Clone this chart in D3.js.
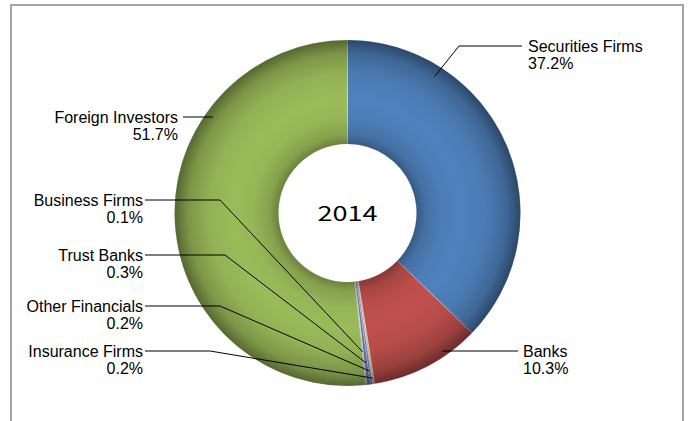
<!DOCTYPE html>
<html><head><meta charset="utf-8">
<script src="https://cdn.jsdelivr.net/npm/d3@7"></script>
<style>
html,body{margin:0;padding:0;background:#fff;}
svg{display:block;}
</style></head>
<body>
<svg id="chart" width="691" height="421"></svg>
<script>
// ---- data ----
const categories = ["Securities Firms","Banks","Insurance Firms","Other Financials","Trust Banks","Business Firms","Foreign Investors"];
const values = [37.2, 10.3, 0.2, 0.2, 0.3, 0.1, 51.7];
const valueLabels = ["37.2%","10.3%","0.2%","0.2%","0.3%","0.1%","51.7%"];
const centerTitle = "2014";

// ---- styles / layout ----
const colors = ["#4f81bd","#c0504d","#d4b48a","#4f81bd","#8064a2","#4bacc6","#9bbb59"];
const cx = 347.5, cy = 213, rOuter = 173, rInner = 69;
const labelLayout = [
  {side:"right", y:46,  elbow:459, lineEnd:522, tx:528, frac:0.243, r:162},
  {side:"right", y:351, elbow:null, lineEnd:518, tx:523, frac:0.315, r:167},
  {side:"left",  y:351, elbow:210, lineEnd:145, tx:143, frac:0.5, r:167},
  {side:"left",  y:306, elbow:220, lineEnd:145, tx:143, frac:0.5, r:159.5},
  {side:"left",  y:255, elbow:225, lineEnd:145, tx:143, frac:0.5, r:151},
  {side:"left",  y:200, elbow:220, lineEnd:145, tx:143, frac:0.5, r:140},
  {side:"left",  y:117, elbow:null, lineEnd:183, tx:178, frac:0.707, r:165}
];

const svg = d3.select("#chart");
svg.append("rect").attr("width",691).attr("height",421).attr("fill","#fff");
svg.append("path")
  .attr("d","M11,430 V5 H683 V430")
  .attr("fill","none").attr("stroke","#a6a6a6").attr("stroke-width",2);

const defs = svg.append("defs");
const grad = defs.append("radialGradient").attr("id","shade")
  .attr("gradientUnits","userSpaceOnUse").attr("cx",0).attr("cy",0).attr("r",rOuter);
[[0.39,0.34],[0.45,0.14],[0.55,0.03],[0.66,0.0],[0.80,0.05],[0.92,0.2],[1.0,0.45]].forEach(([o,a])=>{
  grad.append("stop").attr("offset",o).attr("stop-color","#000").attr("stop-opacity",a);
});

const pie = d3.pie().sort(null).value(d=>d).startAngle(0).endAngle(2*Math.PI);
const arcs = pie(values);
const arc = d3.arc().innerRadius(rInner).outerRadius(rOuter);
const g = svg.append("g").attr("transform",`translate(${cx},${cy})`);

g.selectAll("path.slice").data(arcs).join("path")
  .attr("class","slice")
  .attr("d",arc)
  .attr("fill",(d,i)=>colors[i])
  .attr("stroke","#fff").attr("stroke-width",0.3);

g.append("path")
  .attr("d", d3.arc().innerRadius(rInner).outerRadius(rOuter).startAngle(0).endAngle(2*Math.PI)())
  .attr("fill","url(#shade)");

svg.append("text").attr("x",cx).attr("y",221)
  .attr("text-anchor","middle")
  .attr("font-family","'Noto Sans CJK JP', 'DejaVu Sans', sans-serif").attr("font-size",20)
  .attr("font-weight",400)
  .attr("textLength",60).attr("lengthAdjust","spacingAndGlyphs")
  .attr("fill","#000").text(centerTitle);

const lines = svg.append("g");
arcs.forEach((a,i)=>{
  const L = labelLayout[i];
  const ang = a.startAngle + (a.endAngle-a.startAngle)*L.frac;
  const px = cx + L.r*Math.sin(ang), py = cy - L.r*Math.cos(ang);
  const pts = [[px,py]];
  if (L.elbow!==null) pts.push([L.elbow,L.y]);
  else pts[0] = [px, L.y];
  pts.push([L.lineEnd,L.y]);
  lines.append("path").attr("d",d3.line()(pts))
    .attr("fill","none").attr("stroke","#000").attr("stroke-width",1);
  const t = svg.append("text")
    .attr("font-family","'Liberation Sans', Arial, sans-serif").attr("font-size",16)
    .attr("fill","#000")
    .attr("text-anchor", L.side==="right"?"start":"end");
  t.append("tspan").attr("x",L.tx).attr("y",L.y+6).text(categories[i]);
  t.append("tspan").attr("x",L.tx).attr("y",L.y+22.5).text(valueLabels[i]);
});
</script>
</body></html>
